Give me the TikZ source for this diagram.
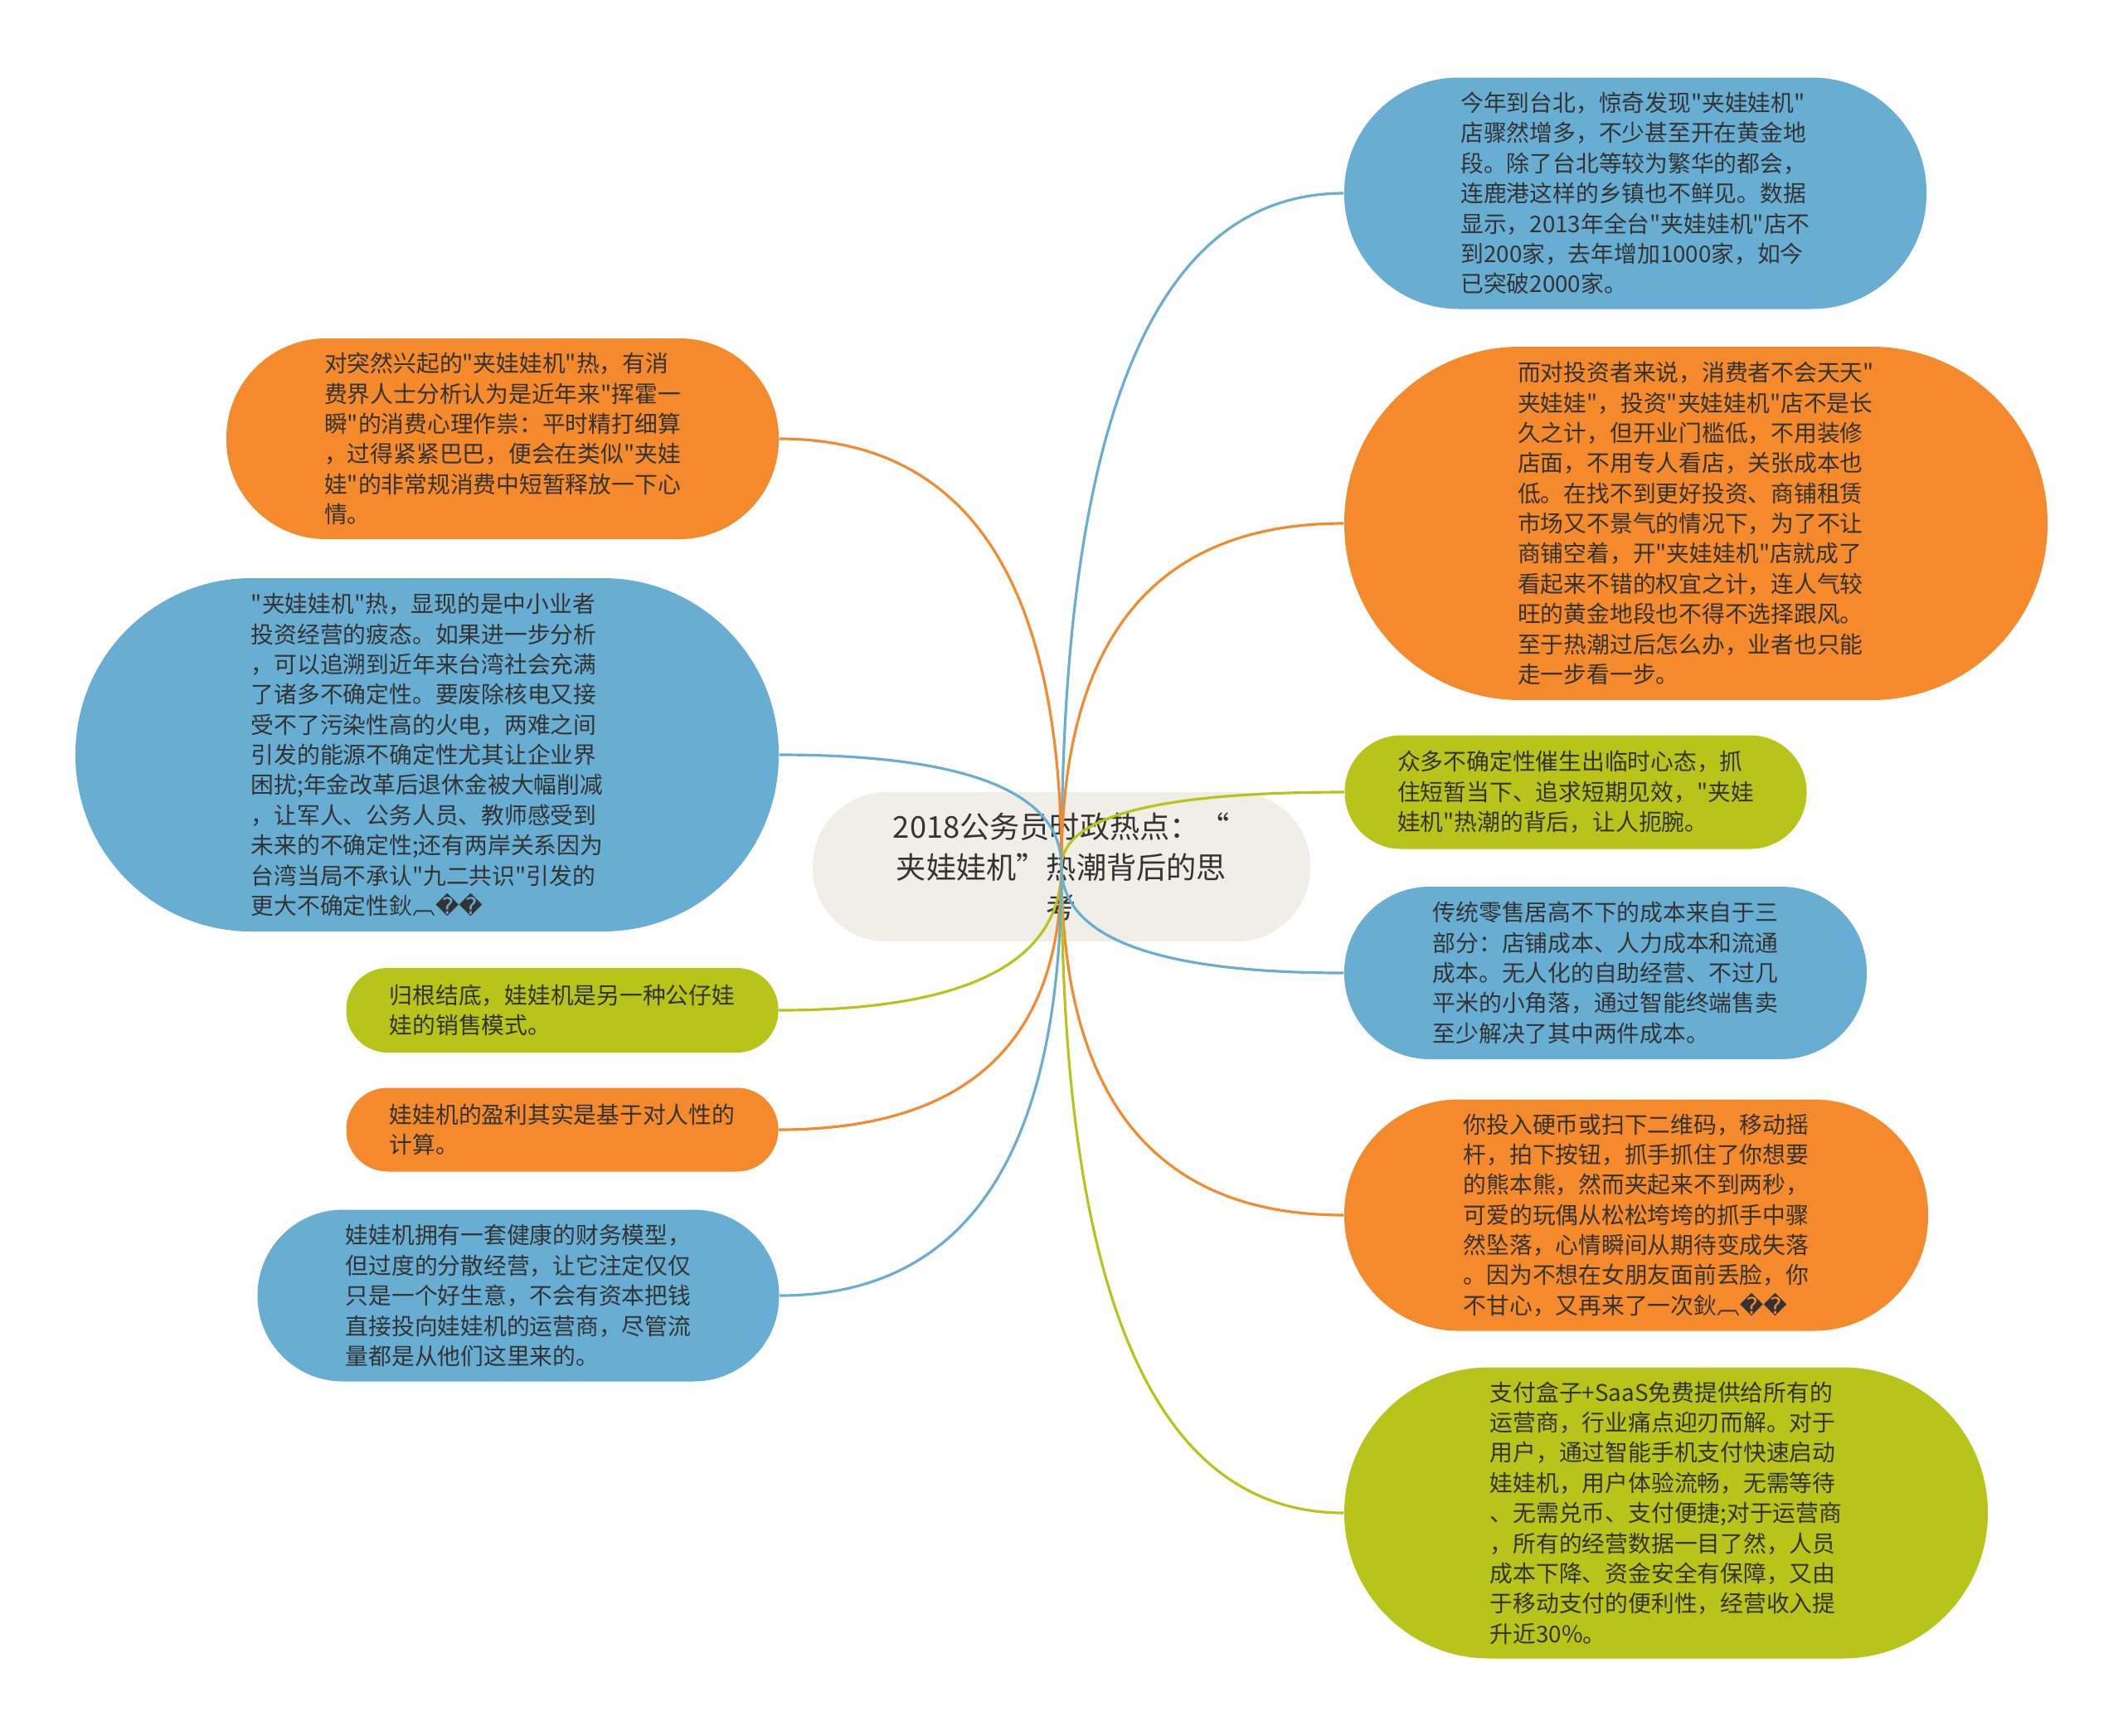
\documentclass[tikz,border=0pt]{standalone}
\usepackage{fontspec}
\setmainfont{Noto Sans CJK SC}
\newfontfamily\cjkfont{Noto Sans CJK SC}
\newfontfamily\symfont{DejaVu Sans}
\usetikzlibrary{calc}
\definecolor{mblue}{HTML}{68AED3}
\definecolor{morange}{HTML}{F48A2C}
\definecolor{mgreen}{HTML}{B8C419}
\definecolor{mroot}{HTML}{EFEFE7}
\definecolor{mtext}{HTML}{333333}
\newcommand{\garble}{鈥︹{\symfont ��}}
\tikzset{
  leaf/.style={align=left, inner sep=0pt, text=mtext, font=\cjkfont\fontsize{7.9}{10.35}\selectfont},
  link/.style={line width=0.9pt},
}
\begin{document}
\begin{tikzpicture}
\fill[white] (0,0) rectangle (25.6,-20.92);
% centre topic
\node[fill=mroot, text=mtext, align=center, inner sep=0pt, minimum width=6cm, minimum height=1.8cm, rounded corners=0.89cm, font=\cjkfont\fontsize{10.3}{13.9}\selectfont] (root) at (12.80,-10.45) {2018公务员时政热点：“\\夹娃娃机”热潮背后的思\\考};
% right side
\node[leaf, fill=mblue, minimum width=7.02cm, minimum height=2.79cm, rounded corners=1.38cm] (r1) at (19.72,-2.33) {今年到台北，惊奇发现"夹娃娃机"\\店骤然增多，不少甚至开在黄金地\\段。除了台北等较为繁华的都会，\\连鹿港这样的乡镇也不鲜见。数据\\显示，2013年全台"夹娃娃机"店不\\到200家，去年增加1000家，如今\\已突破2000家。};
\node[leaf, fill=morange, minimum width=8.48cm, minimum height=4.26cm, rounded corners=2.12cm] (r2) at (20.45,-6.31) {而对投资者来说，消费者不会天天"\\夹娃娃"，投资"夹娃娃机"店不是长\\久之计，但开业门槛低，不用装修\\店面，不用专人看店，关张成本也\\低。在找不到更好投资、商铺租赁\\市场又不景气的情况下，为了不让\\商铺空着，开"夹娃娃机"店就成了\\看起来不错的权宜之计，连人气较\\旺的黄金地段也不得不选择跟风。\\至于热潮过后怎么办，业者也只能\\走一步看一步。};
\node[leaf, fill=mgreen, minimum width=5.57cm, minimum height=1.37cm, rounded corners=0.68cm] (r3) at (19.00,-9.55) {众多不确定性催生出临时心态，抓\\住短暂当下、追求短期见效，"夹娃\\娃机"热潮的背后，让人扼腕。};
\node[leaf, fill=mblue, minimum width=6.30cm, minimum height=2.08cm, rounded corners=1.03cm] (r4) at (19.36,-11.73) {传统零售居高不下的成本来自于三\\部分：店铺成本、人力成本和流通\\成本。无人化的自助经营、不过几\\平米的小角落，通过智能终端售卖\\至少解决了其中两件成本。};
\node[leaf, fill=morange, minimum width=7.04cm, minimum height=2.79cm, rounded corners=1.38cm] (r5) at (19.73,-14.65) {你投入硬币或扫下二维码，移动摇\\杆，拍下按钮，抓手抓住了你想要\\的熊本熊，然而夹起来不到两秒，\\可爱的玩偶从松松垮垮的抓手中骤\\然坠落，心情瞬间从期待变成失落\\。因为不想在女朋友面前丢脸，你\\不甘心，又再来了一次\garble};
\node[leaf, fill=mgreen, minimum width=7.76cm, minimum height=3.51cm, rounded corners=1.75cm] (r6) at (20.09,-18.24) {支付盒子+SaaS免费提供给所有的\\运营商，行业痛点迎刃而解。对于\\用户，通过智能手机支付快速启动\\娃娃机，用户体验流畅，无需等待\\、无需兑币、支付便捷;对于运营商\\，所有的经营数据一目了然，人员\\成本下降、资金安全有保障，又由\\于移动支付的便利性，经营收入提\\升近30\%。};
% left side
\node[leaf, fill=morange, minimum width=6.66cm, minimum height=2.42cm, rounded corners=1.20cm] (l1) at (6.06,-5.29) {对突然兴起的"夹娃娃机"热，有消\\费界人士分析认为是近年来"挥霍一\\瞬"的消费心理作祟：平时精打细算\\，过得紧紧巴巴，便会在类似"夹娃\\娃"的非常规消费中短暂释放一下心\\情。};
\node[leaf, fill=mblue, minimum width=8.48cm, minimum height=4.26cm, rounded corners=2.12cm] (l2) at (5.15,-9.10) {"夹娃娃机"热，显现的是中小业者\\投资经营的疲态。如果进一步分析\\，可以追溯到近年来台湾社会充满\\了诸多不确定性。要废除核电又接\\受不了污染性高的火电，两难之间\\引发的能源不确定性尤其让企业界\\困扰;年金改革后退休金被大幅削减\\，让军人、公务人员、教师感受到\\未来的不确定性;还有两岸关系因为\\台湾当局不承认"九二共识"引发的\\更大不确定性\garble};
\node[leaf, fill=mgreen, minimum width=5.21cm, minimum height=1.02cm, rounded corners=0.50cm] (l3) at (6.78,-12.18) {归根结底，娃娃机是另一种公仔娃\\娃的销售模式。};
\node[leaf, fill=morange, minimum width=5.21cm, minimum height=1.01cm, rounded corners=0.50cm] (l4) at (6.78,-13.62) {娃娃机的盈利其实是基于对人性的\\计算。};
\node[leaf, fill=mblue, minimum width=6.29cm, minimum height=2.07cm, rounded corners=1.03cm] (l5) at (6.25,-15.62) {娃娃机拥有一套健康的财务模型，\\但过度的分散经营，让它注定仅仅\\只是一个好生意，不会有资本把钱\\直接投向娃娃机的运营商，尽管流\\量都是从他们这里来的。};
% connectors
\foreach \n/\c in {r1/mblue, r2/morange, r3/mgreen, r4/mblue, r5/morange, r6/mgreen}
  \draw[link, \c] (root.center) .. controls ($(root.center)!0.667!(root.center |- \n.west)$) and ($(\n.west)!0.667!(root.center |- \n.west)$) .. (\n.west);
\foreach \n/\c in {l1/morange, l2/mblue, l3/mgreen, l4/morange, l5/mblue}
  \draw[link, \c] (root.center) .. controls ($(root.center)!0.667!(root.center |- \n.east)$) and ($(\n.east)!0.667!(root.center |- \n.east)$) .. (\n.east);
\end{tikzpicture}
\end{document}
